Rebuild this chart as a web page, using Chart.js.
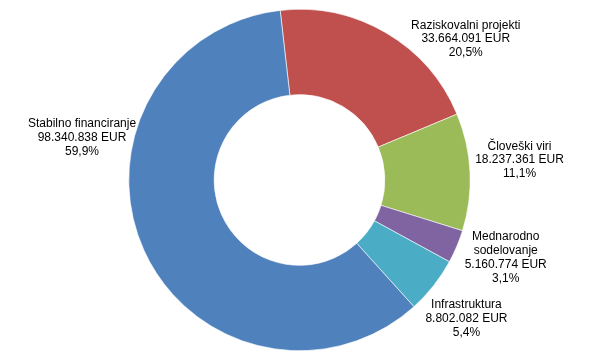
<!DOCTYPE html>
<html>
<head>
<meta charset="utf-8">
<script src="https://cdn.jsdelivr.net/npm/chart.js@4/dist/chart.umd.min.js"></script>
<style>
html,body{margin:0;padding:0;background:#fff;}
#wrap{width:596px;height:361px;}
</style>
</head>
<body>
<div id="wrap"><canvas id="c" width="596" height="361"></canvas></div>
<script>
const categories = ["Raziskovalni projekti", "Človeški viri", "Mednarodno sodelovanje", "Infrastruktura", "Stabilno financiranje"];
const labelLines = [["Raziskovalni projekti"], ["Človeški viri"], ["Mednarodno", "sodelovanje"], ["Infrastruktura"], ["Stabilno financiranje"]];
const values = [33664091, 18237361, 5160774, 8802082, 98340838];
const valueLabels = ["33.664.091 EUR", "18.237.361 EUR", "5.160.774 EUR", "8.802.082 EUR", "98.340.838 EUR"];
const percentLabels = ["20,5%", "11,1%", "3,1%", "5,4%", "59,9%"];
const colors = ["#C0504D", "#9BBB59", "#8064A2", "#4BACC6", "#4F81BD"];

// label anchor positions, in units of outer radius, relative to chart centre
const labelAnchors = [[0.974, -0.826], [1.289, -0.117], [1.208, 0.456], [0.978, 0.813], [-1.274, -0.247]];

const labelPlugin = {
  id: 'outLabels',
  afterDraw(chart) {
    const ctx = chart.ctx;
    const meta = chart.getDatasetMeta(0);
    const arc0 = meta.data[0];
    const cx = arc0.x, cy = arc0.y, r = arc0.outerRadius;
    ctx.save();
    ctx.font = '12px "Liberation Sans", Arial, sans-serif';
    ctx.fillStyle = '#000';
    ctx.textAlign = 'center';
    ctx.textBaseline = 'middle';
    const lh = 13.8;
    meta.data.forEach((arc, i) => {
      const lines = labelLines[i].concat([valueLabels[i], percentLabels[i]]);
      const ax = cx + labelAnchors[i][0] * r;
      const ay = cy + labelAnchors[i][1] * r;
      lines.forEach((t, j) => {
        ctx.fillText(t, ax, ay + (j - (lines.length - 1) / 2) * lh);
      });
    });
    ctx.restore();
  }
};

new Chart(document.getElementById('c'), {
  type: 'doughnut',
  data: {
    labels: categories,
    datasets: [{
      data: values,
      backgroundColor: colors,
      borderColor: '#ffffff',
      borderWidth: 0.6,
      hoverOffset: 0
    }]
  },
  options: {
    responsive: false,
    animation: false,
    rotation: -6.5,
    cutout: '50%',
    layout: { padding: { top: 9, bottom: 10, left: 3, right: 0 } },
    plugins: { legend: { display: false }, tooltip: { enabled: false } }
  },
  plugins: [labelPlugin]
});
</script>
</body>
</html>
